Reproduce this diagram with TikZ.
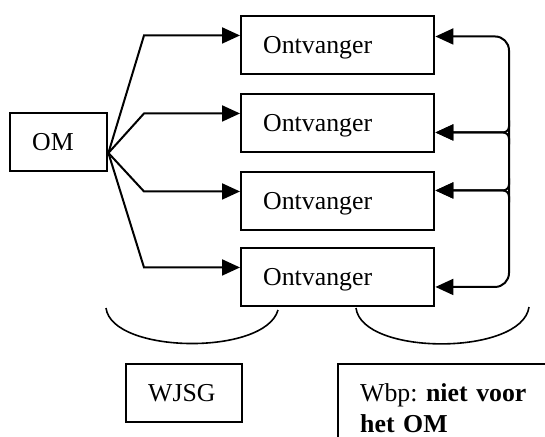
\documentclass[tikz,border=0pt]{standalone}
\usepackage{fontspec}
\setmainfont{Liberation Serif}
\usetikzlibrary{arrows.meta,calc}
\frenchspacing

\begin{document}
\begin{tikzpicture}[x=0.5pt,y=-0.5pt,
  font=\fontsize{12.9}{15.3}\selectfont,
  box/.style={draw,line width=1.2pt,anchor=north west,align=left,inner xsep=11pt,minimum height=28.75pt},
  arr/.style={line width=1pt,-{Triangle[length=9pt,width=8pt]}}]
\useasboundingbox (0,0) rectangle (545,436);
\node[box,text width=26.5pt] (om) at (9,112){OM};
\node[box,text width=74.5pt,text depth=0pt] (o1) at (240,15){Ontvanger};
\node[box,text width=74.5pt,text depth=0pt] (o2) at (240,93){Ontvanger};
\node[box,text width=74.5pt,text depth=0pt] (o3) at (240,171){Ontvanger};
\node[box,text width=74.5pt,text depth=0pt] (o4) at (240,247){Ontvanger};
\node[box,text width=36pt] (wjsg) at (125,363){WJSG};
\node[box,text width=90pt,inner ysep=9.75pt] (wbp) at (337,363){Wbp: \textbf{niet voor}\\\textbf{het OM}};
% from OM to the receivers
\coordinate (fan) at ([yshift=-5.5pt]om.east);
\foreach \i in {1,...,4}
  \draw[arr] (fan) -- ([xshift=-48pt,yshift=4.75pt]o\i.west) -- ([yshift=4.75pt]o\i.west);
% back line on the right
\coordinate (bus) at (509,160);
\coordinate (t1) at ([yshift=4.25pt]o1.east);
\coordinate (t2) at ([yshift=-4.75pt]o2.east);
\coordinate (t3) at ([yshift=5.25pt]o3.east);
\coordinate (t4) at ([yshift=-5pt]o4.east);
\draw[arr,{Triangle[length=9pt,width=8pt]}-{Triangle[length=9pt,width=8pt]},rounded corners=7pt] (t1) -| (bus) |- (t4);
\foreach \t in {t2,t3}{
  \draw[arr,rounded corners=3pt] ($(bus |- \t)+(0,-12)$) |- (\t);
  \draw[arr,rounded corners=3pt] ($(bus |- \t)+(0,12)$) |- (\t);
}
% brackets
\draw[line width=0.8pt] (106,308) .. controls (112,354) and (265,356) .. (278,310);
\draw[line width=0.8pt] (356,308) .. controls (362,356) and (522,356) .. (529,307);
\end{tikzpicture}
\end{document}
